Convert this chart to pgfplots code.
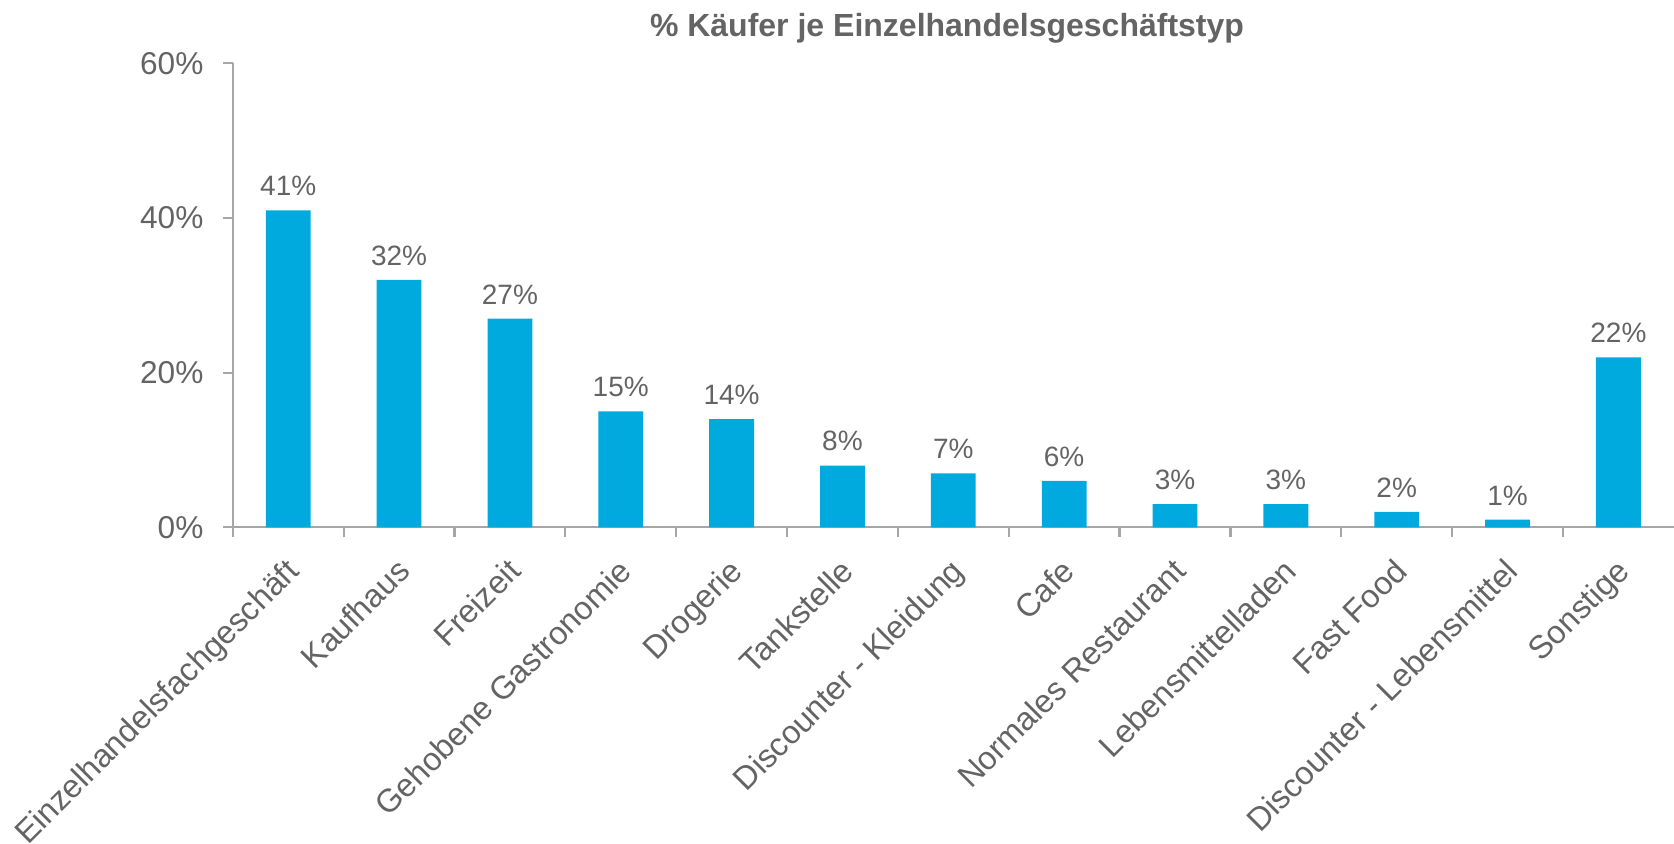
\documentclass[border=0pt]{standalone}
\usepackage{pgfplots}
\pgfplotsset{compat=1.18}
\usepackage{fontspec}
\setmainfont{Liberation Sans}
\definecolor{barblue}{HTML}{00AADE}
\definecolor{txtgray}{HTML}{646464}
\definecolor{axgray}{HTML}{A6A6A6}
\begin{document}
\begin{tikzpicture}
\begin{axis}[
  at={(116.4pt,158.3pt)}, anchor=south west,
  scale only axis, width=720.5pt, height=232pt,
  xmin=-0.5, xmax=12.5, ymin=0, ymax=60,
  axis lines=left,
  axis line style={-, draw=axgray, line width=1.1pt},
  tick align=outside,
  major tick length=5pt,
  tick style={draw=axgray, line width=1.1pt},
  xtick={-0.5,0.5,1.5,2.5,3.5,4.5,5.5,6.5,7.5,8.5,9.5,10.5,11.5},
  xticklabels={,,,,,,,,,,,,},
  extra x ticks={0,1,2,3,4,5,6,7,8,9,10,11,12},
  extra x tick labels={Einzelhandelsfachgeschäft, Kaufhaus, Freizeit, Gehobene Gastronomie, Drogerie, Tankstelle, Discounter - Kleidung, Cafe, Normales Restaurant, Lebensmittelladen, Fast Food, Discounter - Lebensmittel, Sonstige},
  extra x tick style={major tick length=0pt,
    xticklabel style={anchor=north east, inner sep=0pt, text height=0.74em, text depth=0.21em,
      font=\fontsize{16.2}{19}\selectfont, text=txtgray, xshift=1pt, yshift=-17.5pt, rotate=45}},
  xticklabel shift=0pt,
  ytick={0,20,40,60},
  yticklabel={\pgfmathprintnumber{\tick}\%},
  /pgf/number format/assume math mode=true,
  yticklabel style={font=\fontsize{15.8}{18}\selectfont, text=txtgray, inner sep=0pt, xshift=-9.5pt},
  ybar, bar width=22.4pt,
  nodes near coords={\pgfmathprintnumber{\pgfplotspointmeta}\%},
  nodes near coords style={font=\fontsize{14}{16}\selectfont, text=txtgray, anchor=south, inner sep=0pt, yshift=7pt},
  clip=false,
]
\addplot[fill=barblue, draw=none] coordinates {
(0,41) (1,32) (2,27) (3,15) (4,14) (5,8) (6,7) (7,6) (8,3) (9,3) (10,2) (11,1) (12,22)};
\end{axis}
\node[font=\bfseries\fontsize{16}{19}\selectfont, text=txtgray] at (473.5pt,408pt) {\% Käufer je Einzelhandelsgeschäftstyp};
\pgfresetboundingbox
\path[use as bounding box] (0,0) rectangle (837pt,422pt);
\end{tikzpicture}
\end{document}
